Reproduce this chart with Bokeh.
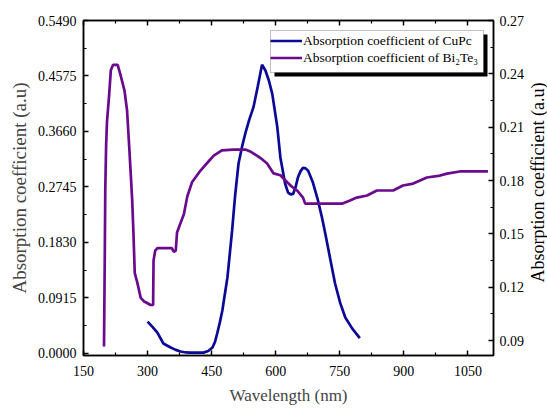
from math import pi
from bokeh.plotting import figure
from bokeh.layouts import row
from bokeh.models import (Range1d, LinearAxis, FixedTicker, PrintfTickFormatter,
                          Legend, LegendItem, BoxAnnotation, Label)
from bokeh.embed import file_html
from bokeh.resources import INLINE

# ---------------- data ----------------
cupc_wl = [300, 312, 323, 337, 354, 366, 377, 390, 400, 431,
           442, 452, 458, 463, 469, 475, 487, 498, 505, 513,
           521, 529, 538, 548, 558, 568, 576, 584, 592, 604,
           611, 622, 629, 635, 641, 647, 652, 658, 664, 670,
           676, 687, 699, 708, 716, 727, 739, 751, 763, 779, 797]
cupc_val = [0.052, 0.043, 0.034, 0.016, 0.0094, 0.0055, 0.0028, 0.0012, 0.001, 0.001,
            0.0035, 0.0094, 0.019, 0.0325, 0.05, 0.07, 0.125, 0.2025, 0.26, 0.313,
            0.34, 0.363, 0.385, 0.406, 0.44, 0.476, 0.4665, 0.45, 0.428, 0.372,
            0.323, 0.280, 0.265, 0.262, 0.263, 0.275, 0.290, 0.300, 0.306, 0.305,
            0.301, 0.282, 0.252, 0.225, 0.198, 0.158, 0.115, 0.083, 0.059, 0.041, 0.025]

bite_wl = [198, 200, 201, 203, 205, 210, 214, 219, 230, 236,
           246, 252, 258, 264, 267, 270, 276, 284, 292, 300,
           307, 313, 314, 318, 323, 337, 357, 361, 366, 369,
           377, 385, 393, 404, 424, 440, 455, 474, 500, 529,
           543, 556, 568, 580, 595, 611, 627, 638, 650, 664,
           669, 700, 730, 755, 774, 790, 814, 837, 875, 898,
           922, 954, 985, 1001, 1031, 1097]
bite_val = [0.0866, 0.142, 0.175, 0.200, 0.213, 0.228, 0.242, 0.245, 0.245, 0.240,
            0.2306, 0.2194, 0.195, 0.169, 0.150, 0.128, 0.1226, 0.114, 0.112, 0.111,
            0.110, 0.110, 0.135, 0.1406, 0.142, 0.142, 0.142, 0.140, 0.1405, 0.1508,
            0.156, 0.161, 0.1710, 0.179, 0.1856, 0.190, 0.194, 0.197, 0.1974, 0.1974,
            0.196, 0.194, 0.192, 0.1896, 0.184, 0.183, 0.179, 0.1765, 0.1744, 0.1704,
            0.167, 0.167, 0.167, 0.167, 0.1688, 0.1704, 0.1716, 0.1744, 0.1744, 0.1772,
            0.1783, 0.1817, 0.1828, 0.1839, 0.1851, 0.1851]

x_ticks = [150, 300, 450, 600, 750, 900, 1050]
x_minor = [225, 375, 525, 675, 825, 975]
left_ticks = [0.0, 0.0915, 0.183, 0.2745, 0.366, 0.4575, 0.549]
left_minor = [0.04575, 0.13725, 0.22875, 0.32025, 0.41175, 0.50325]
right_ticks = [0.09, 0.12, 0.15, 0.18, 0.21, 0.24, 0.27]
right_minor = [0.105, 0.135, 0.165, 0.195, 0.225, 0.255]

label_cupc = "Absorption coefficient of CuPc"
label_bite = "Absorption coefficient of Bi\u2082Te\u2083"
y_title = "Absorption coefficient (a.u)"
x_title = "Wavelength (nm)"

FONT = "Liberation Serif"
BLUE = "#0A0A96"
PURPLE = "#6A0A8C"

p = figure(width=527, height=410, output_backend="svg", toolbar_location=None,
           x_range=Range1d(150, 1110), y_range=Range1d(-0.0038, 0.549),
           min_border_left=83, min_border_right=33, min_border_top=20,
           min_border_bottom=55)
p.extra_y_ranges = {"right": Range1d(0.0816, 0.27)}
p.xgrid.visible = False
p.ygrid.visible = False
p.outline_line_color = "black"
p.outline_line_width = 1.5
p.background_fill_color = "white"
p.border_fill_color = "white"


def style_axis(ax, ticks, minor, fmt, show_labels=True):
    ax.ticker = FixedTicker(ticks=ticks, minor_ticks=minor)
    ax.major_tick_in = 5
    ax.major_tick_out = 0
    ax.minor_tick_in = 3
    ax.minor_tick_out = 0
    ax.axis_line_color = "black"
    ax.axis_line_width = 1.5
    ax.major_tick_line_width = 1.5
    ax.minor_tick_line_width = 1.2
    ax.major_label_text_font = FONT
    ax.major_label_text_font_size = "14px"
    ax.major_label_text_color = "black"
    if fmt:
        ax.formatter = PrintfTickFormatter(format=fmt)
    if not show_labels:
        ax.major_label_text_font_size = "0px"
        ax.major_label_text_alpha = 0


xb = p.xaxis[0]
style_axis(xb, x_ticks, x_minor, "%d")
xb.major_label_standoff = 10
xb.axis_label = x_title
xb.axis_label_text_font = FONT
xb.axis_label_text_font_style = "normal"
xb.axis_label_text_font_size = "17px"
xb.axis_label_standoff = 7

yl = p.yaxis[0]
style_axis(yl, left_ticks, left_minor, "%.4f")
yl.major_label_standoff = 7
yl.axis_label = y_title
yl.axis_label_text_font = FONT
yl.axis_label_text_font_style = "normal"
yl.axis_label_text_font_size = "19px"
yl.axis_label_standoff = 5

yr = LinearAxis(y_range_name="right")
style_axis(yr, right_ticks, right_minor, "%.2f")
yr.major_label_standoff = 6
p.add_layout(yr, "right")

xt = LinearAxis()
style_axis(xt, x_ticks, x_minor, None, show_labels=False)
xt.major_label_standoff = 0
p.add_layout(xt, "above")

r1 = p.line(cupc_wl, cupc_val, line_color=BLUE, line_width=2.7)
r2 = p.line(bite_wl, bite_val, line_color=PURPLE, line_width=2.7, y_range_name="right")

# legend box with shadow
shadow = BoxAnnotation(left=191, right=404, top=321, bottom=279,
                       left_units="screen", right_units="screen",
                       top_units="screen", bottom_units="screen",
                       fill_color="black", fill_alpha=1, line_color=None)
box = BoxAnnotation(left=187, right=400, top=325, bottom=283,
                    left_units="screen", right_units="screen",
                    top_units="screen", bottom_units="screen",
                    fill_color="white", fill_alpha=1, line_color="#333333",
                    line_width=1)
p.add_layout(shadow)
p.add_layout(box)

legend = Legend(items=[LegendItem(label=label_cupc, renderers=[r1]),
                       LegendItem(label=label_bite, renderers=[r2])],
                location=(187, 289), padding=0, margin=0, spacing=0,
                label_height=17, glyph_height=17, glyph_width=32,
                label_standoff=1, border_line_color=None,
                background_fill_alpha=0, label_text_font=FONT,
                label_text_font_size="13.5px", label_text_color="black")
p.add_layout(legend, "center")

# narrow strip on the right holding the right-hand axis title (reads bottom-to-top)
p2 = figure(width=20, height=410, output_backend="svg", toolbar_location=None,
            x_range=Range1d(0, 1), y_range=Range1d(0, 1),
            x_axis_location=None, y_axis_location=None,
            min_border_left=0, min_border_right=0, min_border_top=0,
            min_border_bottom=0)
p2.xgrid.visible = False
p2.ygrid.visible = False
p2.outline_line_color = None
p2.background_fill_color = "white"
p2.border_fill_color = "white"
p2.add_layout(Label(x=10, y=173, x_units="screen", y_units="screen", text=y_title,
                    angle=pi / 2, text_align="center", text_baseline="middle",
                    text_font=FONT, text_font_size="18px", text_color="black"))

layout = row(p, p2, spacing=0)
open("out.html", "w").write(file_html(layout, INLINE))
